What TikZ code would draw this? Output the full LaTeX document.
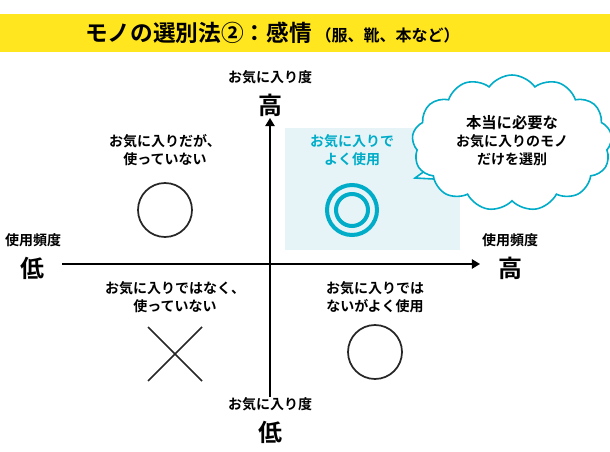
\documentclass[tikz,border=0pt]{standalone}
\usepackage{fontspec}
\setmainfont{Noto Sans CJK JP}[BoldFont={Noto Sans CJK JP Bold}]
\usetikzlibrary{arrows.meta,shapes.symbols}
\definecolor{barYellow}{RGB}{255,230,30}
\definecolor{ringCyan}{RGB}{0,172,200}
\definecolor{paleCyan}{RGB}{230,244,247}
\begin{document}
\begin{tikzpicture}[x=0.75pt,y=-0.75pt,>=Triangle,
  every node/.style={font=\bfseries\fontsize{10.5}{13.5}\selectfont,align=center,inner sep=0pt},
  big/.style={font=\bfseries\fontsize{18}{18}\selectfont},
  sign/.style={line width=1.3pt,draw=black!85}]
\useasboundingbox (0,0) rectangle (610,452);

% title
\fill[barYellow] (0,14) rectangle (610,52);
\node[anchor=west] (title) at (85,33) {\fontsize{17}{17}\selectfont モノの選別法②：感情\,\fontsize{12}{12}\selectfont（服、靴、本など）};

% quadrant
\fill[paleCyan] (285,128) rectangle (460,250);
\draw[line width=1.2pt,->] (62,264) -- (480,264);
\draw[line width=1.2pt,->] (270,397) -- (270,118);

\node (vhiT) at (270,77) {お気に入り度};
\node[big] (vhi) at (270,105) {高};
\node (vloT) at (270,404) {お気に入り度};
\node[big] (vlo) at (270,432) {低};
\node (hloT) at (33,240) {使用頻度};
\node[big] (hlo) at (33,268) {低};
\node (hhiT) at (510,240) {使用頻度};
\node[big] (hhi) at (510,268) {高};

\node (tl) at (165,150) {お気に入りだが、\\使っていない};
\draw[sign] (165,210) circle (27);
\node[text=ringCyan] (tr) at (352,150) {お気に入りで\\よく使用};
\draw[ringCyan,line width=3pt] (352,210) circle (25) (352,210) circle (16);
\node (bl) at (175,297) {お気に入りではなく、\\使っていない};
\draw[sign] (148,327) -- (202,381) (202,327) -- (148,381);
\node (br) at (375,297) {お気に入りでは\\ないがよく使用};
\draw[sign] (375,352) circle (27);

% cloud
\draw[ringCyan,line width=1.2pt,fill=white] (440,160) -- (415,178) -- (452,180);
\node[cloud,cloud puffs=13,cloud puff arc=110,aspect=1.5,draw=ringCyan,line width=1.2pt,
  fill=white,minimum width=150pt,minimum height=102pt] (cloud) at (512,143) {};
\node (cloudT) at (512,141) {\fontsize{11.5}{19}\selectfont 本当に必要な\\お気に入りのモノ\\だけを選別};
\end{tikzpicture}
\end{document}
